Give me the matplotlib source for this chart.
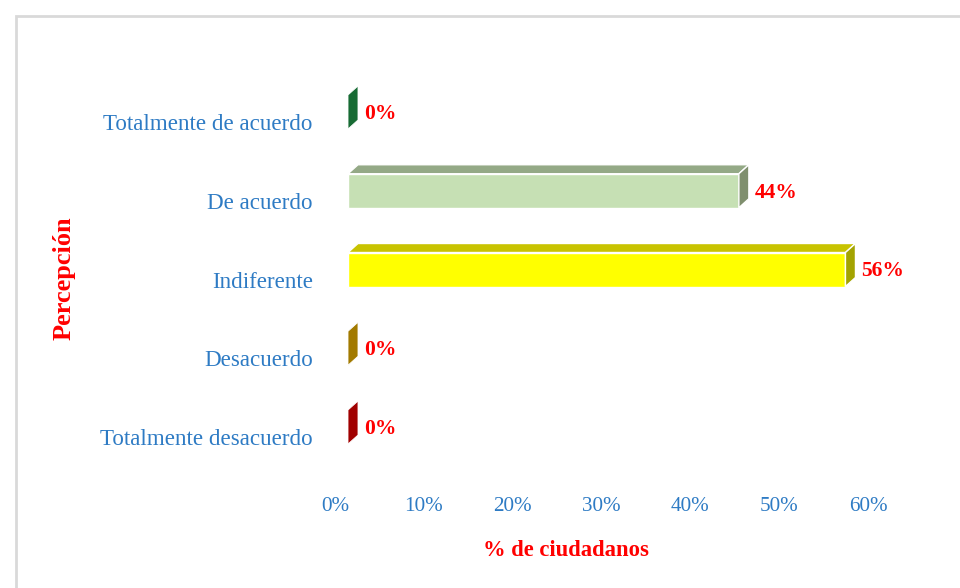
import matplotlib
matplotlib.use("Agg")
import matplotlib.pyplot as plt
from matplotlib.patches import Polygon, Rectangle
from matplotlib.transforms import ScaledTranslation
import numpy as np

# Survey answers, bottom to top
categories = ["Totalmente desacuerdo", "Desacuerdo", "Indiferente",
              "De acuerdo", "Totalmente de acuerdo"]
values = [0, 0, 56, 44, 0]            # % de ciudadanos
value_labels = ["0%", "0%", "56%", "44%", "0%"]
x_ticks = [0, 10, 20, 30, 40, 50, 60]
x_tick_labels = ["0%", "10%", "20%", "30%", "40%", "50%", "60%"]

# face colours of each box: front, top, side
front_colors = ["#d40000", "#f5bb00", "#ffff00", "#c6e0b4", "#2aa352"]
top_colors = ["#b00000", "#c99a00", "#c8c300", "#94a986", "#1f8a44"]
side_colors = ["#a00000", "#a27a00", "#a3a300", "#7f8f6e", "#176b34"]

W, H, DPI = 960, 588, 100
fig = plt.figure(figsize=(W / DPI, H / DPI), dpi=DPI)
fig.patch.set_facecolor("white")

# light grey chart-area frame
fig.patches.append(Rectangle((16 / W, -0.05), 1.1, 1 - 16 / H + 0.05,
                             transform=fig.transFigure, fill=False,
                             edgecolor="#d9d9d9", linewidth=2.0))

ax_l, ax_r = 335, 868
ax_t, ax_b = 82.6, 476.4
ax = fig.add_axes([ax_l / W, 1 - ax_b / H, (ax_r - ax_l) / W, (ax_b - ax_t) / H])
ax.set_xlim(0, 60)
ax.set_ylim(-0.5, 4.5)
for s in ax.spines.values():
    s.set_visible(False)
ax.set_facecolor("none")

serif = ["Liberation Serif", "DejaVu Serif"]
tick_blue = "#2e7bc4"

ax.set_xticks(x_ticks)
ax.set_xticklabels(x_tick_labels, fontfamily=serif, fontsize=15.2, color=tick_blue)
ax.set_yticks(np.arange(len(categories)))
ax.set_yticklabels(categories, fontfamily=serif, fontsize=16.6, color=tick_blue)
ax.tick_params(axis="x", length=0, pad=14.5)
ax.tick_params(axis="y", length=0, pad=16)

# pixel scale of the data axes, used to give the boxes a fixed 3-D depth
px_per_x = (ax_r - ax_l) / 60.0
px_per_y = (ax_b - ax_t) / 5.0
depth_px_x, depth_px_y = 10, 9
ddx = depth_px_x / px_per_x
ddy = depth_px_y / px_per_y
bar_h = 34 / px_per_y

# the floor of the 3-D plot sits slightly right of and above the tick labels
shift = ax.transData + ScaledTranslation(13 / DPI, 10 / DPI, fig.dpi_scale_trans)
label_shift = shift + ScaledTranslation(6 / DPI, -2 / DPI, fig.dpi_scale_trans)

for i, v in enumerate(values):
    y0, y1 = i - bar_h / 2, i + bar_h / 2
    x0, x1 = 0, v
    front = [(x0, y0), (x1, y0), (x1, y1), (x0, y1)]
    top = [(x0, y1), (x1, y1), (x1 + ddx, y1 + ddy), (x0 + ddx, y1 + ddy)]
    side = [(x1, y0), (x1 + ddx, y0 + ddy), (x1 + ddx, y1 + ddy), (x1, y1)]
    ew = 1.0 if v > 0 else 0.6
    if v > 0:
        ax.add_patch(Polygon(front, closed=True, facecolor=front_colors[i],
                             edgecolor="white", linewidth=ew, transform=shift))
        ax.add_patch(Polygon(top, closed=True, facecolor=top_colors[i],
                             edgecolor="white", linewidth=ew, transform=shift))
    ax.add_patch(Polygon(side, closed=True, facecolor=side_colors[i],
                         edgecolor="white", linewidth=ew, transform=shift))
    ax.text(x1 + ddx, i, value_labels[i], transform=label_shift,
            ha="left", va="center", fontfamily=serif, fontsize=15.5,
            fontweight="bold", color="#ff0000", clip_on=False)

fig.text(566 / W, 1 - 550 / H, "% de ciudadanos", ha="center", va="center",
         fontfamily=serif, fontsize=16.3, fontweight="bold", color="#ff0000")
fig.text(64 / W, 1 - 278 / H, "Percepción", ha="center", va="center",
         rotation=90, fontfamily=serif, fontsize=19, fontweight="bold",
         color="#ff0000")

fig.savefig("out.png", dpi=DPI, facecolor="white")
